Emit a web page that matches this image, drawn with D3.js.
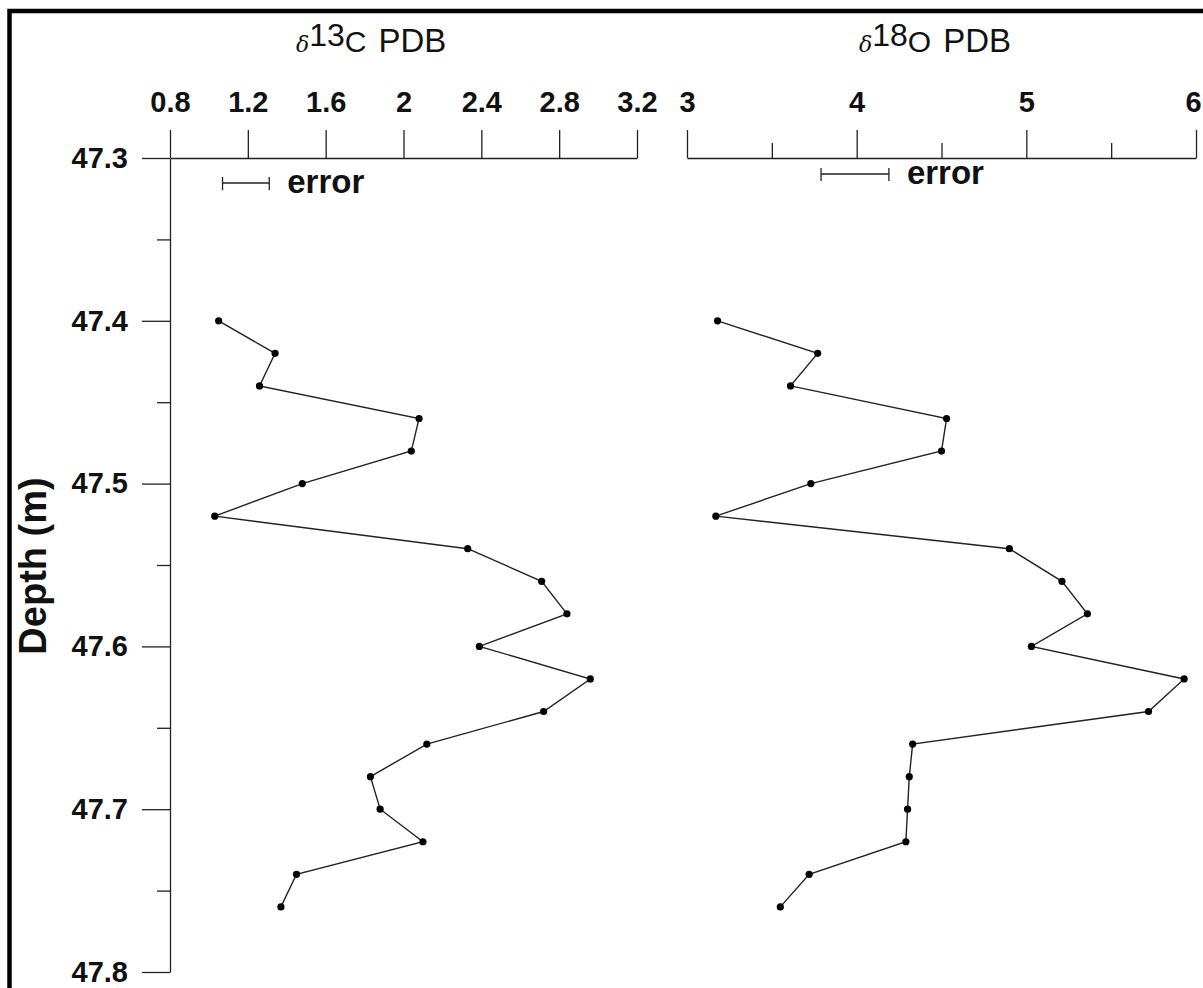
<!DOCTYPE html>
<html>
<head>
<meta charset="utf-8">
<script src="https://cdn.jsdelivr.net/npm/d3@7"></script>
<style>
  body { margin: 0; background: #fff; }
  svg { display: block; font-family: "Liberation Sans", Arial, sans-serif; }
  .tick text { font-weight: bold; font-size: 29px; fill: #111; }
  .domain, .tick line { stroke: #222; stroke-width: 1.3; }
</style>
</head>
<body>
<svg id="chart" width="1203" height="988"></svg>
<script>
// sample depths (m)
var depths = [47.40, 47.42, 47.44, 47.46, 47.48, 47.50, 47.52, 47.54, 47.56, 47.58,
              47.60, 47.62, 47.64, 47.66, 47.68, 47.70, 47.72, 47.74, 47.76];
var d13C = [1.05, 1.34, 1.26, 2.08, 2.04, 1.48, 1.03, 2.33, 2.71, 2.84,
            2.39, 2.96, 2.72, 2.12, 1.83, 1.88, 2.10, 1.45, 1.37];
var d18O = [3.18, 3.77, 3.61, 4.53, 4.50, 3.73, 3.17, 4.90, 5.21, 5.36,
            5.03, 5.93, 5.72, 4.33, 4.31, 4.30, 4.29, 3.72, 3.55];

var ticks13C = [0.8, 1.2, 1.6, 2, 2.4, 2.8, 3.2];
var ticks18O = [3, 4, 5, 6];
var minor18O = [3.5, 4.5, 5.5];
var depthTicks = [47.3, 47.4, 47.5, 47.6, 47.7, 47.8];
var depthMinor = [47.35, 47.45, 47.55, 47.65, 47.75];

var err13C = [1.07, 1.31];
var err18O = [3.79, 4.19];

var svg = d3.select("#chart");

// frame
svg.append("rect")
    .attr("x", 9.5).attr("y", 11)
    .attr("width", 1200).attr("height", 1000)
    .attr("fill", "none").attr("stroke", "#000").attr("stroke-width", 4.5);

var y = d3.scaleLinear().domain([47.3, 47.8]).range([158, 972]);
var x13 = d3.scaleLinear().domain([0.8, 3.2]).range([170, 637]);
var x18 = d3.scaleLinear().domain([3, 6]).range([687, 1196]);

//axes
svg.append("g")
    .attr("transform", "translate(170,0)")
    .call(d3.axisLeft(y).tickValues(depthMinor).tickSize(13).tickFormat(""))
    .select(".domain").remove();
svg.append("g")
    .attr("transform", "translate(170,0)")
    .call(d3.axisLeft(y).tickValues(depthTicks).tickSize(28).tickSizeOuter(0)
        .tickPadding(14).tickFormat(d3.format(".1f")));

svg.append("g")
    .attr("transform", "translate(0,158)")
    .call(d3.axisTop(x13).tickValues(ticks13C).tickSize(28).tickSizeOuter(0)
        .tickPadding(18).tickFormat(d => d == 2 ? "2" : d3.format(".1f")(d)));

svg.append("g")
    .attr("transform", "translate(0,158)")
    .call(d3.axisTop(x18).tickValues(minor18O).tickSize(15).tickFormat(""))
    .select(".domain").remove();
var ax18 = svg.append("g")
    .attr("transform", "translate(0,158)")
    .call(d3.axisTop(x18).tickValues(ticks18O).tickSize(28).tickSizeOuter(0)
        .tickPadding(18).tickFormat(d3.format("d")));
// last label sits on the frame edge
ax18.selectAll(".tick text").filter(d => d == 6).attr("dx", -3);

svg.selectAll(".tick text").attr("font-size", null).attr("font-family", null);

// titles
function title(x, sup, el) {
    var t = svg.append("text")
        .attr("x", x).attr("y", 52)
        .attr("fill", "#111");
    t.append("tspan").text("\u03B4")
        .attr("font-family", "DejaVu Serif, serif").attr("font-style", "italic")
        .attr("font-size", 22);
    t.append("tspan").text(sup).attr("font-size", 32).attr("dy", -6);
    t.append("tspan").text(el).attr("font-size", 30).attr("dy", 6);
    t.append("tspan").text("PDB").attr("font-size", 33).attr("dx", 12);
}
title(296, "13", "C");
title(859, "18", "O");

// y label
svg.append("text")
    .attr("transform", "translate(46,566) rotate(-90)")
    .attr("text-anchor", "middle")
    .attr("font-weight", "bold").attr("font-size", 38)
    .attr("fill", "#111")
    .text("Depth (m)");

// error bars
function errorBar(scale, ext, yy) {
    var g = svg.append("g").attr("stroke", "#222").attr("stroke-width", 1.3);
    g.append("line").attr("x1", scale(ext[0])).attr("x2", scale(ext[1]))
        .attr("y1", yy).attr("y2", yy);
    ext.forEach(v => g.append("line").attr("x1", scale(v)).attr("x2", scale(v))
        .attr("y1", yy - 6).attr("y2", yy + 7));
    svg.append("text")
        .attr("x", scale(ext[1]) + 18).attr("y", yy + 10)
        .attr("font-weight", "bold").attr("font-size", 33)
        .attr("fill", "#111")
        .text("error");
}
errorBar(x13, err13C, 183);
errorBar(x18, err18O, 174);

// profiles
function profile(vals, scale) {
    var pts = depths.map((d, i) => ({d: d, v: vals[i]}));
    svg.append("path")
        .datum(pts)
        .attr("fill", "none").attr("stroke", "#222").attr("stroke-width", 1.4)
        .attr("d", d3.line().x(p => scale(p.v)).y(p => y(p.d)));
    svg.append("g").selectAll("circle")
        .data(pts).enter()
        .append("circle")
        .attr("cx", p => scale(p.v)).attr("cy", p => y(p.d))
        .attr("r", 3.6).attr("fill", "#000");
}
profile(d13C, x13);
profile(d18O, x18);
</script>
</body>
</html>
